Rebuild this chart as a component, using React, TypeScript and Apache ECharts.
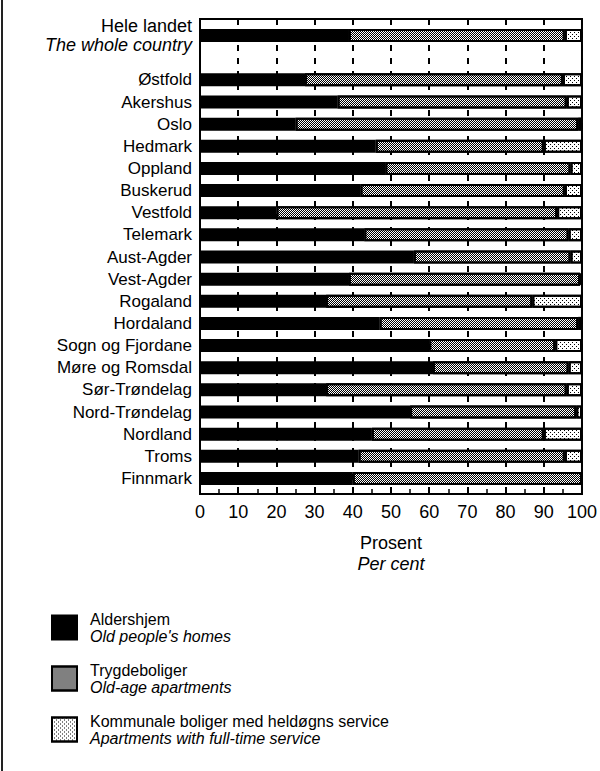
import React, { useEffect, useRef } from 'react';
import * as echarts from 'echarts';

const categories = [
  'Hele landet', '', 'Østfold', 'Akershus', 'Oslo', 'Hedmark', 'Oppland', 'Buskerud',
  'Vestfold', 'Telemark', 'Aust-Agder', 'Vest-Agder', 'Rogaland', 'Hordaland',
  'Sogn og Fjordane', 'Møre og Romsdal', 'Sør-Trøndelag', 'Nord-Trøndelag',
  'Nordland', 'Troms', 'Finnmark',
];
const wholeCountryEn = 'The whole country';

const aldershjem = [39, null, 27.5, 36, 25, 46, 48.5, 42, 20, 43, 56, 39, 33, 47, 60, 61, 33, 55, 45, 41.5, 40];
const trygdeboliger = [56.5, null, 67.5, 60, 74, 44, 48.5, 53.5, 73.5, 53.5, 41, 60.5, 54, 52, 33, 35.5, 63, 43.5, 45, 54, 60];
const kommunale = [4.5, null, 5, 4, 1, 10, 3, 4.5, 6.5, 3.5, 3, 0.5, 13, 1, 7, 3.5, 4, 1.5, 10, 4.5, 0];

const seriesNames = ['Aldershjem', 'Trygdeboliger', 'Kommunale boliger med heldøgns service'];
const seriesNamesEn = ["Old people's homes", 'Old-age apartments', 'Apartments with full-time service'];
const axisTitle = ['Prosent', 'Per cent'];

const FONT = '"Liberation Sans", Arial, Helvetica, sans-serif';

export default function App() {
  const ref = useRef<HTMLDivElement>(null);
  useEffect(() => {
    if (!ref.current) return;
    const chart = echarts.init(ref.current, undefined, { renderer: 'svg' });
    const border = { borderColor: '#000', borderWidth: 2 };
    const option: any = {
      animation: false,
      backgroundColor: '#fff',
      textStyle: { fontFamily: FONT },
      grid: [
        { left: 200, right: 18, top: 24.5, height: 465, show: false },
        { left: 200, right: 18, top: 19, height: 475, show: true, borderColor: '#000', borderWidth: 2, backgroundColor: 'transparent' },
      ],
      xAxis: [
        { gridIndex: 0, type: 'value', min: 0, max: 100, show: false },
        {
          gridIndex: 1, type: 'value', min: 0, max: 100, interval: 10,
          axisLine: { show: true, lineStyle: { color: '#000', width: 2 } },
          axisTick: { show: true, inside: true, length: 5, lineStyle: { color: '#000', width: 1.5 } },
          minorTick: { show: true, splitNumber: 2, length: 5, lineStyle: { color: '#000', width: 1.5 } },
          splitLine: { show: true, lineStyle: { color: '#000', width: 2, type: [6, 7] } },
          axisLabel: { color: '#000', fontSize: 18, fontFamily: FONT, margin: 9 },
          name: `{p|${axisTitle[0]}}\n{q|${axisTitle[1]}}`,
          nameLocation: 'middle',
          nameGap: 38,
          nameTextStyle: {
            rich: {
              p: { fontSize: 18, lineHeight: 21, color: '#000', fontFamily: FONT },
              q: { fontSize: 18, lineHeight: 21, color: '#000', fontFamily: FONT, fontStyle: 'italic' },
            },
          },
        },
      ],
      yAxis: [
        {
          gridIndex: 0, type: 'category', data: categories, inverse: true,
          axisLine: { show: false }, axisTick: { show: false }, splitLine: { show: false },
          axisLabel: {
            color: '#000', fontSize: 17, fontFamily: FONT, margin: 8, interval: 0,
            formatter: (v: string) => (v === categories[0] ? `{a|${v}}\n{b|${wholeCountryEn}}` : v),
            rich: {
              a: { fontSize: 18, lineHeight: 19, color: '#000', fontFamily: FONT, align: 'right' },
              b: { fontSize: 18, lineHeight: 19, color: '#000', fontFamily: FONT, fontStyle: 'italic', align: 'right' },
            },
          },
        },
        { gridIndex: 1, type: 'value', min: 0, max: 1, show: false },
      ],
      legend: {
        orient: 'vertical', left: 46, top: 606, itemWidth: 25, itemHeight: 24, itemGap: 18,
        icon: 'rect',
        data: seriesNames,
        formatter: (name: string) => `{a|${name}}\n{b|${seriesNamesEn[seriesNames.indexOf(name)]}}`,
        textStyle: {
          rich: {
            a: { fontSize: 16, lineHeight: 17, color: '#000', fontFamily: FONT, padding: [0, 0, 0, 8] },
            b: { fontSize: 16, lineHeight: 17, color: '#000', fontFamily: FONT, fontStyle: 'italic', padding: [0, 0, 0, 8] },
          },
        },
      },
      series: [
        {
          name: seriesNames[0], type: 'bar', stack: 'all', xAxisIndex: 0, yAxisIndex: 0, barWidth: 13,
          data: aldershjem, itemStyle: { color: '#000', ...border },
        },
        {
          name: seriesNames[1], type: 'bar', stack: 'all', xAxisIndex: 0, yAxisIndex: 0, barWidth: 13,
          data: trygdeboliger,
          itemStyle: {
            color: '#fff', ...border,
            decal: { symbol: 'rect', symbolSize: 1, color: '#000', dashArrayX: [[1, 1], [0, 1, 1, 0]], dashArrayY: [1, 0], rotation: 0 },
          },
        },
        {
          name: seriesNames[2], type: 'bar', stack: 'all', xAxisIndex: 0, yAxisIndex: 0, barWidth: 13,
          data: kommunale,
          itemStyle: {
            color: '#fff', ...border,
            decal: { symbol: 'rect', symbolSize: 1, color: '#000', dashArrayX: [[1, 3], [0, 2, 1, 1]], dashArrayY: [1, 1], rotation: 0 },
          },
        },
      ],
      graphic: [
        { type: 'line', shape: { x1: 2, y1: 0, x2: 2, y2: 771 }, style: { stroke: '#222', lineWidth: 2 } },
      ],
    };
    chart.setOption(option);
    return () => chart.dispose();
  }, []);
  return <div ref={ref} style={{ position: 'fixed', left: 0, top: 0, width: 600, height: 771 }} />;
}
